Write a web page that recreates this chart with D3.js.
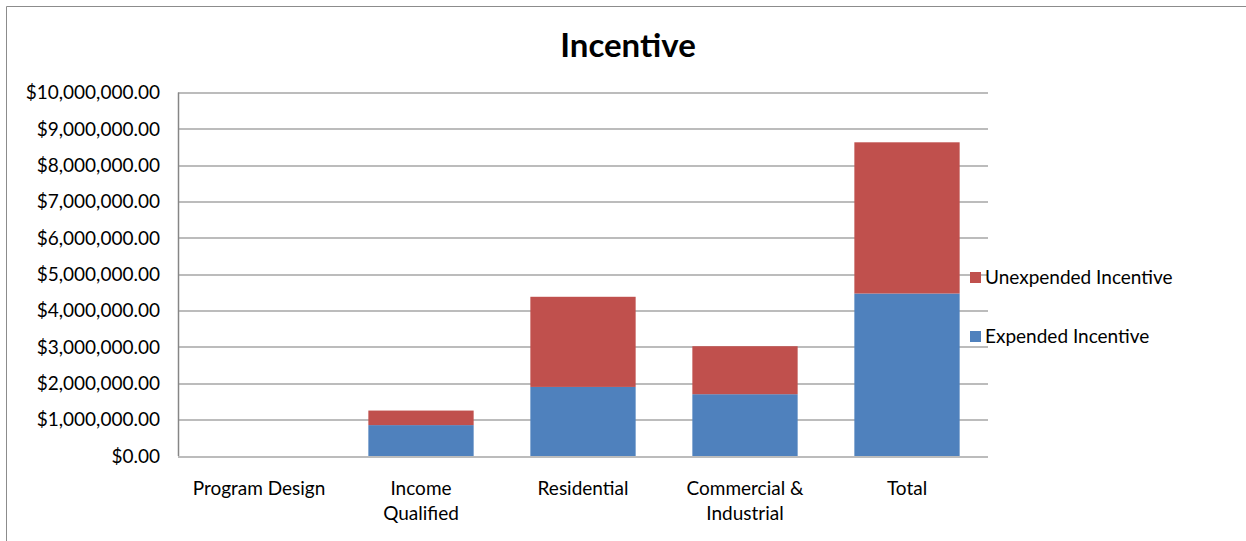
<!DOCTYPE html>
<html lang="en">
<head>
<meta charset="utf-8">
<title>Incentive</title>
<script src="https://d3js.org/d3.v7.min.js"></script>
<style>
  body { margin: 0; background: #fff; }
  svg text { font-family: Lato, "Open Sans", sans-serif; fill: #000; }
</style>
</head>
<body>
<div id="chart"></div>
<script>
// data
var categories = ["Program Design", "Income Qualified", "Residential", "Commercial & Industrial", "Total"];
var catLines = [["Program Design"], ["Income", "Qualified"], ["Residential"], ["Commercial &", "Industrial"], ["Total"]];
var expended = [0, 850000, 1900000, 1700000, 4470000];
var unexpended = [0, 400000, 2480000, 1320000, 4160000];
var seriesNames = ["Expended Incentive", "Unexpended Incentive"];
var seriesColors = ["#4f81bd", "#c0504d"];
var yTicks = [0, 1000000, 2000000, 3000000, 4000000, 5000000, 6000000, 7000000, 8000000, 9000000, 10000000];

var W = 1246, H = 541;
var margin = {top: 92.5, right: 258, bottom: 85, left: 178};
var width = W - margin.left - margin.right,
    height = H - margin.top - margin.bottom;

var svg = d3.select("#chart").append("svg")
  .attr("width", W)
  .attr("height", H);

// outer chart border
svg.append("path")
  .attr("d", "M6.5," + H + "V6.5H" + W)
  .attr("fill", "none")
  .attr("stroke", "#8c8c8c")
  .attr("stroke-width", 1);

var g = svg.append("g")
  .attr("transform", "translate(" + margin.left + "," + margin.top + ")");

var x = d3.scaleBand().domain(categories).range([0, width]).paddingInner(0.35).paddingOuter(0.175);
var y = d3.scaleLinear().domain([0, 10000000]).range([height, 0]);

// gridlines
g.append("g")
  .selectAll("line")
  .data(yTicks)
  .enter().append("line")
    .attr("x1", 0).attr("x2", width)
    .attr("y1", function(d) { return Math.round(y(d)) + 0.5; })
    .attr("y2", function(d) { return Math.round(y(d)) + 0.5; })
    .attr("stroke", "#a6a6a6")
    .attr("stroke-width", 1.5);

// y tick labels
var fmt = d3.format("$,.2f");
g.append("g")
  .selectAll("text")
  .data(yTicks)
  .enter().append("text")
    .attr("x", -18)
    .attr("y", function(d) { return y(d); })
    .attr("dy", "0.35em")
    .attr("text-anchor", "end")
    .style("font-size", "19px")
    .text(function(d) { return fmt(d); });

// stacked bars
var rows = categories.map(function(c, i) {
  return {cat: c, expended: expended[i], unexpended: unexpended[i]};
});
var stack = d3.stack().keys(["expended", "unexpended"]);
var layers = stack(rows);

g.append("g")
  .selectAll("g")
  .data(layers)
  .enter().append("g")
    .attr("fill", function(d, i) { return seriesColors[i]; })
  .selectAll("rect")
  .data(function(d) { return d; })
  .enter().append("rect")
    .attr("x", function(d) { return x(d.data.cat); })
    .attr("width", x.bandwidth())
    .attr("y", function(d) { return y(d[1]); })
    .attr("height", function(d) { return y(d[0]) - y(d[1]); });

// left axis line
g.append("line")
  .attr("x1", 0.5).attr("x2", 0.5)
  .attr("y1", 0).attr("y2", height)
  .attr("stroke", "#868686")
  .attr("stroke-width", 1.5);

// x category labels
var xl = g.append("g")
  .selectAll("text")
  .data(categories)
  .enter().append("text")
    .attr("text-anchor", "middle")
    .attr("transform", function(d) { return "translate(" + (x(d) + x.bandwidth() / 2) + "," + (height + 39) + ")"; })
    .style("font-size", "19px");
xl.selectAll("tspan")
  .data(function(d, i) { return catLines[i]; })
  .enter().append("tspan")
    .attr("x", 0)
    .attr("dy", function(d, i) { return i === 0 ? 0 : 25; })
    .text(function(d) { return d; });

// title
svg.append("text")
  .attr("x", 628)
  .attr("y", 57)
  .attr("text-anchor", "middle")
  .style("font-size", "33px")
  .style("font-weight", "bold")
  .text("Incentive");

// legend (unexpended on top)
var legendItems = [1, 0];
var legend = svg.append("g")
  .selectAll("g")
  .data(legendItems)
  .enter().append("g")
    .attr("transform", function(d, i) { return "translate(970," + (272 + i * 59) + ")"; });
legend.append("rect")
  .attr("width", 11).attr("height", 11)
  .attr("fill", function(d) { return seriesColors[d]; });
legend.append("text")
  .attr("x", 15)
  .attr("y", 5.5)
  .attr("dy", "0.35em")
  .style("font-size", "19px")
  .text(function(d) { return seriesNames[d]; });
</script>
</body>
</html>
